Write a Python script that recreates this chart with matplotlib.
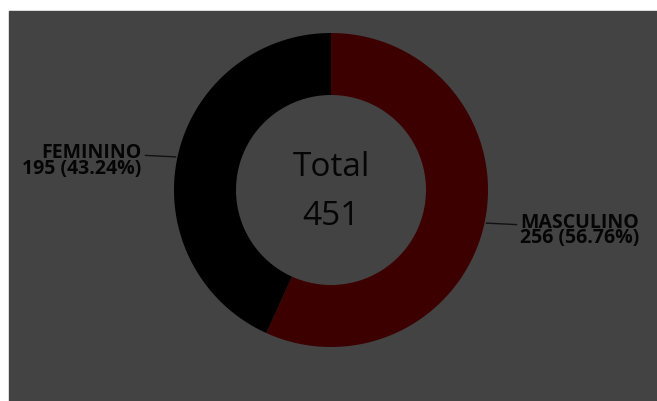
import numpy as np
import matplotlib.pyplot as plt

# gender split
labels = ["MASCULINO", "FEMININO"]
counts = [256, 195]
colors = ["#3c0000", "#000000"]

W, H = 657, 401
fig = plt.figure(figsize=(W / 100, H / 100), dpi=100, facecolor="white")
ax = fig.add_axes([0, 0, 1, 1])
ax.set_xlim(0, W)
ax.set_ylim(H, 0)
ax.axis("off")

# dark panel
ax.add_patch(plt.Rectangle((9, 11), W - 9, H - 11, color="#434343", zorder=0))

cx, cy = 331, 190
r_out, r_in = 157, 95
total = sum(counts)

# wedges go clockwise from 12 o'clock (y axis points down here)
start = 0.0
for lab, n, col in zip(labels, counts, colors):
    frac = n / total
    a0, a1 = start * 360, (start + frac) * 360
    t = np.radians(np.linspace(a0, a1, 200))
    xo, yo = cx + r_out * np.sin(t), cy - r_out * np.cos(t)
    xi, yi = cx + r_in * np.sin(t[::-1]), cy - r_in * np.cos(t[::-1])
    ax.fill(np.r_[xo, xi], np.r_[yo, yi], color=col, lw=0, zorder=2)

    # leader line from the middle of the wedge
    mid = np.radians((start + frac / 2) * 360)
    px, py = cx + r_out * np.sin(mid), cy - r_out * np.cos(mid)
    side = 1 if np.sin(mid) > 0 else -1
    ex, ey = px + side * 32, py + side * 1.5
    ax.plot([px + side * 2, ex], [py, ey], color="#111111", lw=1.0, zorder=3)
    ha = "left" if side > 0 else "right"
    # baseline of the last line sits ~15 px below the first one
    ax.text(ex + side * 4, ey + 18.5, f"{lab}\n{n} ({frac * 100:.2f}%)",
            ha=ha, va="baseline", ma=ha, linespacing=0.7,
            family="Open Sans", weight="bold", fontsize=14, color="#050505")
    start += frac

ax.text(cx, 176, "Total", ha="center", va="baseline", family="Open Sans",
        fontsize=24, color="#050505")
ax.text(cx, 225, str(total), ha="center", va="baseline", family="Open Sans",
        fontsize=24, color="#050505")

fig.savefig("out.png", dpi=100, facecolor="white")
